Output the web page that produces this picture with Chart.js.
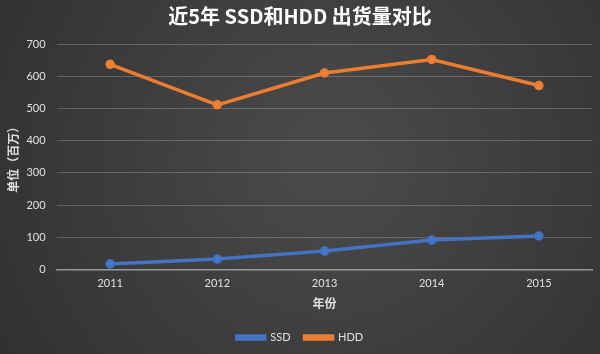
<!DOCTYPE html>
<html>
<head>
<meta charset="utf-8">
<script src="https://cdn.jsdelivr.net/npm/chart.js@4/dist/chart.umd.min.js"></script>
<style>
  html, body { margin: 0; padding: 0; background: #3c3c3c; }
  #wrap { width: 600px; height: 354px; position: relative; }
</style>
</head>
<body>
<div id="wrap"><canvas id="c1"></canvas></div>
<script>
var years = ['2011', '2012', '2013', '2014', '2015'];
var ssd = [17, 32, 57, 91, 104];
var hdd = [637, 511, 610, 652, 571];

var bgPlugin = {
    id: 'bg',
    beforeDraw: function(chart) {
        var ctx = chart.ctx;
        var w = chart.width, h = chart.height;
        var g = ctx.createRadialGradient(w * 0.55, h * 0.45, 20, w * 0.55, h * 0.45, w * 0.65);
        g.addColorStop(0, '#4a4a4a');
        g.addColorStop(1, '#303030');
        ctx.save();
        ctx.fillStyle = g;
        ctx.fillRect(0, 0, w, h);
        ctx.restore();
    }
};

// nudge the legend a bit lower than the layout puts it
var legendShift = {
    id: 'legendShift',
    afterLayout: function(chart) {
        if (chart.legend) {
            chart.legend.top += 7;
            chart.legend.bottom += 7;
        }
    }
};

var cjk = '"Noto Sans CJK SC", "Noto Sans", sans-serif';
var lat = 'Lato, "Noto Sans", sans-serif';

var ctx = document.getElementById('c1').getContext('2d');
var chart = new Chart(ctx, {
    type: 'line',
    data: {
        labels: years,
        datasets: [
            {
                label: 'SSD',
                data: ssd,
                borderColor: '#4472c4',
                backgroundColor: '#4472c4',
                borderWidth: 3.5,
                pointRadius: 3,
                pointBackgroundColor: '#4f7fd4',
                tension: 0
            },
            {
                label: 'HDD',
                data: hdd,
                borderColor: '#ed7d31',
                backgroundColor: '#ed7d31',
                borderWidth: 3.5,
                pointRadius: 3,
                pointBackgroundColor: '#f08a40',
                tension: 0
            }
        ]
    },
    options: {
        responsive: true,
        maintainAspectRatio: false,
        animation: false,
        layout: { padding: { left: 6, right: 6, top: 4, bottom: 8 } },
        plugins: {
            title: {
                display: true,
                text: '近5年 SSD和HDD 出货量对比',
                color: '#ffffff',
                font: { family: cjk, size: 20, weight: 'bold' },
                padding: { top: 0, bottom: 16 }
            },
            legend: {
                position: 'bottom',
                labels: {
                    color: '#e0e0e0',
                    font: { family: lat, size: 11 },
                    boxWidth: 28,
                    boxHeight: 3,
                    padding: 14
                }
            },
            tooltip: { enabled: false }
        },
        scales: {
            x: {
                offset: true,
                grid: { display: false, drawTicks: false },
                border: { color: '#9a9a9a', width: 1.5 },
                ticks: { color: '#e0e0e0', font: { family: lat, size: 11 }, padding: 7 },
                title: {
                    display: true,
                    text: '年份',
                    color: '#e0e0e0',
                    font: { family: cjk, size: 12, weight: 'bold' },
                    padding: { top: 0, bottom: 0 }
                }
            },
            y: {
                min: 0,
                max: 700,
                afterFit: function(scale) { scale.width -= 5; },
                ticks: { stepSize: 100, color: '#e0e0e0', font: { family: lat, size: 11 }, padding: 11 },
                grid: { color: 'rgba(255,255,255,0.2)', drawTicks: false },
                border: { display: false },
                title: {
                    display: true,
                    text: '单位（百万）',
                    color: '#e0e0e0',
                    font: { family: cjk, size: 12, weight: 'bold' },
                    padding: { top: 0, bottom: 0 }
                }
            }
        }
    },
    plugins: [bgPlugin, legendShift]
});
</script>
</body>
</html>
